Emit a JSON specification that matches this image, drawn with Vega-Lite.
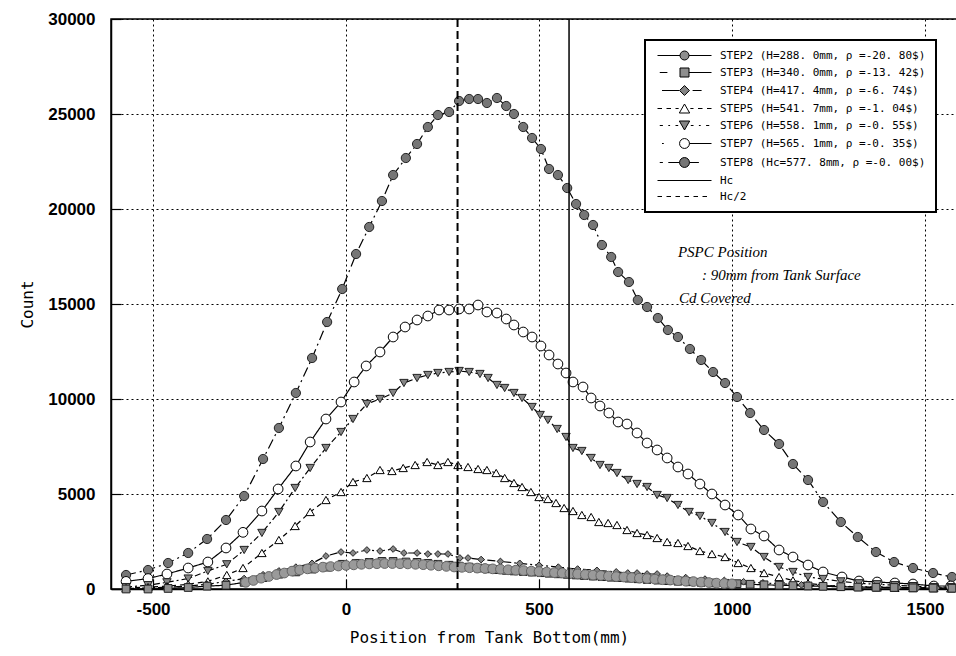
{
"$schema": "https://vega.github.io/schema/vega-lite/v6.json",
"width": 846, "height": 570,
"autosize": {"type": "none"},
"padding": {"left": 111, "top": 19, "right": 0, "bottom": 67},
"background": "white",
"config": {
 "view": {"stroke": "black", "strokeWidth": 1.5},
 "axis": {"domainColor": "black", "domainWidth": 1.5, "tickColor": "black", "tickSize": -10, "tickWidth": 1.2,
  "grid": true, "gridColor": "black", "gridDash": [2, 3], "gridWidth": 1, "gridOpacity": 1,
  "labelColor": "black", "labelFont": "Liberation Sans", "labelFontSize": 17, "labelFontWeight": "bold",
  "titleColor": "black", "titleFont": "DejaVu Sans Mono", "titleFontSize": 16, "titleFontWeight": "normal"},
 "axisX": {"labelPadding": 22, "titlePadding": 12},
 "axisY": {"labelPadding": 26, "titlePadding": 12}
},
"datasets": {
 "pts": [
{"s":"STEP8","x":-570,"y":737},{"s":"STEP8","x":-513,"y":1000},{"s":"STEP8","x":-461,"y":1368},{"s":"STEP8","x":-409,"y":1895},{"s":"STEP8","x":-360,"y":2632},{"s":"STEP8","x":-311,"y":3632},{"s":"STEP8","x":-264,"y":4895},{"s":"STEP8","x":-215,"y":6842},{"s":"STEP8","x":-174,"y":8474},{"s":"STEP8","x":-130,"y":10316},{"s":"STEP8","x":-88,"y":12158},{"s":"STEP8","x":-49,"y":14053},{"s":"STEP8","x":-10,"y":15789},{"s":"STEP8","x":26,"y":17632},{"s":"STEP8","x":60,"y":19053},{"s":"STEP8","x":93,"y":20421},{"s":"STEP8","x":122,"y":21789},{"s":"STEP8","x":155,"y":22684},{"s":"STEP8","x":184,"y":23421},{"s":"STEP8","x":212,"y":24316},{"s":"STEP8","x":238,"y":24947},{"s":"STEP8","x":267,"y":25105},{"s":"STEP8","x":293,"y":25684},{"s":"STEP8","x":319,"y":25789},{"s":"STEP8","x":342,"y":25789},{"s":"STEP8","x":365,"y":25579},{"s":"STEP8","x":391,"y":25842},{"s":"STEP8","x":415,"y":25421},{"s":"STEP8","x":435,"y":25000},{"s":"STEP8","x":459,"y":24316},{"s":"STEP8","x":482,"y":23737},{"s":"STEP8","x":505,"y":23158},{"s":"STEP8","x":526,"y":22105},{"s":"STEP8","x":549,"y":21789},{"s":"STEP8","x":573,"y":21105},{"s":"STEP8","x":596,"y":20263},{"s":"STEP8","x":617,"y":19684},{"s":"STEP8","x":640,"y":19158},{"s":"STEP8","x":663,"y":18105},{"s":"STEP8","x":687,"y":17474},{"s":"STEP8","x":705,"y":16684},{"s":"STEP8","x":733,"y":16158},{"s":"STEP8","x":756,"y":15211},{"s":"STEP8","x":780,"y":14842},{"s":"STEP8","x":808,"y":14263},{"s":"STEP8","x":834,"y":13632},{"s":"STEP8","x":860,"y":13263},{"s":"STEP8","x":891,"y":12632},{"s":"STEP8","x":920,"y":12053},{"s":"STEP8","x":951,"y":11421},{"s":"STEP8","x":982,"y":10842},{"s":"STEP8","x":1013,"y":10105},{"s":"STEP8","x":1047,"y":9263},{"s":"STEP8","x":1083,"y":8368},{"s":"STEP8","x":1122,"y":7632},{"s":"STEP8","x":1158,"y":6579},{"s":"STEP8","x":1197,"y":5737},{"s":"STEP8","x":1236,"y":4579},{"s":"STEP8","x":1282,"y":3526},{"s":"STEP8","x":1326,"y":2737},{"s":"STEP8","x":1373,"y":1947},{"s":"STEP8","x":1420,"y":1421},{"s":"STEP8","x":1469,"y":1105},{"s":"STEP8","x":1521,"y":842},{"s":"STEP8","x":1570,"y":632},
{"s":"STEP7","x":-570,"y":400},{"s":"STEP7","x":-513,"y":550},{"s":"STEP7","x":-464,"y":789},{"s":"STEP7","x":-409,"y":1105},{"s":"STEP7","x":-358,"y":1421},{"s":"STEP7","x":-311,"y":2158},{"s":"STEP7","x":-267,"y":2982},{"s":"STEP7","x":-218,"y":4105},{"s":"STEP7","x":-176,"y":5263},{"s":"STEP7","x":-130,"y":6474},{"s":"STEP7","x":-93,"y":7737},{"s":"STEP7","x":-52,"y":8947},{"s":"STEP7","x":-13,"y":9842},{"s":"STEP7","x":21,"y":10895},{"s":"STEP7","x":52,"y":11737},{"s":"STEP7","x":88,"y":12474},{"s":"STEP7","x":122,"y":13263},{"s":"STEP7","x":153,"y":13789},{"s":"STEP7","x":184,"y":14158},{"s":"STEP7","x":212,"y":14368},{"s":"STEP7","x":241,"y":14684},{"s":"STEP7","x":267,"y":14684},{"s":"STEP7","x":293,"y":14737},{"s":"STEP7","x":319,"y":14737},{"s":"STEP7","x":342,"y":14947},{"s":"STEP7","x":365,"y":14579},{"s":"STEP7","x":391,"y":14526},{"s":"STEP7","x":415,"y":14211},{"s":"STEP7","x":435,"y":13895},{"s":"STEP7","x":459,"y":13526},{"s":"STEP7","x":482,"y":13263},{"s":"STEP7","x":505,"y":12789},{"s":"STEP7","x":526,"y":12316},{"s":"STEP7","x":549,"y":11842},{"s":"STEP7","x":570,"y":11368},{"s":"STEP7","x":588,"y":10895},{"s":"STEP7","x":614,"y":10632},{"s":"STEP7","x":635,"y":10053},{"s":"STEP7","x":658,"y":9632},{"s":"STEP7","x":681,"y":9263},{"s":"STEP7","x":705,"y":8789},{"s":"STEP7","x":728,"y":8684},{"s":"STEP7","x":754,"y":8211},{"s":"STEP7","x":780,"y":7684},{"s":"STEP7","x":806,"y":7316},{"s":"STEP7","x":832,"y":6895},{"s":"STEP7","x":860,"y":6421},{"s":"STEP7","x":886,"y":6053},{"s":"STEP7","x":917,"y":5526},{"s":"STEP7","x":948,"y":5000},{"s":"STEP7","x":982,"y":4421},{"s":"STEP7","x":1016,"y":3895},{"s":"STEP7","x":1049,"y":3158},{"s":"STEP7","x":1083,"y":2789},{"s":"STEP7","x":1122,"y":2053},{"s":"STEP7","x":1158,"y":1684},{"s":"STEP7","x":1197,"y":1263},{"s":"STEP7","x":1236,"y":895},{"s":"STEP7","x":1285,"y":632},{"s":"STEP7","x":1329,"y":421},{"s":"STEP7","x":1376,"y":368},{"s":"STEP7","x":1422,"y":316},{"s":"STEP7","x":1469,"y":263},{"s":"STEP7","x":1523,"y":158},{"s":"STEP7","x":1567,"y":158},
{"s":"STEP6","x":-570,"y":100},{"s":"STEP6","x":-513,"y":200},{"s":"STEP6","x":-464,"y":350},{"s":"STEP6","x":-409,"y":550},{"s":"STEP6","x":-358,"y":950},{"s":"STEP6","x":-309,"y":1300},{"s":"STEP6","x":-264,"y":2053},{"s":"STEP6","x":-218,"y":2950},{"s":"STEP6","x":-174,"y":4053},{"s":"STEP6","x":-132,"y":5316},{"s":"STEP6","x":-93,"y":6368},{"s":"STEP6","x":-52,"y":7421},{"s":"STEP6","x":-13,"y":8263},{"s":"STEP6","x":18,"y":8947},{"s":"STEP6","x":54,"y":9737},{"s":"STEP6","x":88,"y":10000},{"s":"STEP6","x":122,"y":10316},{"s":"STEP6","x":150,"y":10842},{"s":"STEP6","x":184,"y":11105},{"s":"STEP6","x":212,"y":11263},{"s":"STEP6","x":238,"y":11368},{"s":"STEP6","x":267,"y":11421},{"s":"STEP6","x":293,"y":11474},{"s":"STEP6","x":319,"y":11421},{"s":"STEP6","x":347,"y":11316},{"s":"STEP6","x":368,"y":11105},{"s":"STEP6","x":391,"y":10737},{"s":"STEP6","x":411,"y":10579},{"s":"STEP6","x":435,"y":10316},{"s":"STEP6","x":456,"y":10053},{"s":"STEP6","x":482,"y":9579},{"s":"STEP6","x":503,"y":9158},{"s":"STEP6","x":523,"y":8895},{"s":"STEP6","x":547,"y":8421},{"s":"STEP6","x":570,"y":8000},{"s":"STEP6","x":588,"y":7421},{"s":"STEP6","x":611,"y":7263},{"s":"STEP6","x":635,"y":6895},{"s":"STEP6","x":658,"y":6526},{"s":"STEP6","x":681,"y":6368},{"s":"STEP6","x":702,"y":6105},{"s":"STEP6","x":731,"y":5737},{"s":"STEP6","x":754,"y":5526},{"s":"STEP6","x":780,"y":5368},{"s":"STEP6","x":806,"y":4947},{"s":"STEP6","x":832,"y":4789},{"s":"STEP6","x":860,"y":4421},{"s":"STEP6","x":889,"y":4053},{"s":"STEP6","x":917,"y":3842},{"s":"STEP6","x":948,"y":3474},{"s":"STEP6","x":982,"y":3000},{"s":"STEP6","x":1013,"y":2474},{"s":"STEP6","x":1049,"y":2211},{"s":"STEP6","x":1083,"y":1684},{"s":"STEP6","x":1122,"y":1158},{"s":"STEP6","x":1158,"y":895},{"s":"STEP6","x":1197,"y":632},{"s":"STEP6","x":1236,"y":526},{"s":"STEP6","x":1282,"y":400},{"s":"STEP6","x":1329,"y":300},{"s":"STEP6","x":1376,"y":250},{"s":"STEP6","x":1422,"y":200},{"s":"STEP6","x":1469,"y":150},{"s":"STEP6","x":1523,"y":100},{"s":"STEP6","x":1567,"y":100},
{"s":"STEP5","x":-570,"y":50},{"s":"STEP5","x":-513,"y":100},{"s":"STEP5","x":-464,"y":150},{"s":"STEP5","x":-409,"y":250},{"s":"STEP5","x":-358,"y":400},{"s":"STEP5","x":-309,"y":737},{"s":"STEP5","x":-267,"y":1105},{"s":"STEP5","x":-218,"y":1895},{"s":"STEP5","x":-174,"y":2579},{"s":"STEP5","x":-132,"y":3316},{"s":"STEP5","x":-93,"y":4053},{"s":"STEP5","x":-52,"y":4684},{"s":"STEP5","x":-13,"y":5105},{"s":"STEP5","x":18,"y":5632},{"s":"STEP5","x":54,"y":5842},{"s":"STEP5","x":88,"y":6263},{"s":"STEP5","x":119,"y":6211},{"s":"STEP5","x":148,"y":6368},{"s":"STEP5","x":179,"y":6526},{"s":"STEP5","x":210,"y":6684},{"s":"STEP5","x":238,"y":6526},{"s":"STEP5","x":264,"y":6684},{"s":"STEP5","x":290,"y":6526},{"s":"STEP5","x":316,"y":6421},{"s":"STEP5","x":342,"y":6316},{"s":"STEP5","x":365,"y":6263},{"s":"STEP5","x":389,"y":6105},{"s":"STEP5","x":411,"y":5842},{"s":"STEP5","x":435,"y":5579},{"s":"STEP5","x":456,"y":5368},{"s":"STEP5","x":479,"y":5105},{"s":"STEP5","x":500,"y":4842},{"s":"STEP5","x":523,"y":4737},{"s":"STEP5","x":544,"y":4526},{"s":"STEP5","x":565,"y":4263},{"s":"STEP5","x":588,"y":4105},{"s":"STEP5","x":611,"y":3895},{"s":"STEP5","x":635,"y":3789},{"s":"STEP5","x":655,"y":3526},{"s":"STEP5","x":679,"y":3474},{"s":"STEP5","x":702,"y":3368},{"s":"STEP5","x":728,"y":3105},{"s":"STEP5","x":754,"y":2947},{"s":"STEP5","x":780,"y":2842},{"s":"STEP5","x":806,"y":2684},{"s":"STEP5","x":832,"y":2474},{"s":"STEP5","x":860,"y":2421},{"s":"STEP5","x":886,"y":2263},{"s":"STEP5","x":917,"y":2000},{"s":"STEP5","x":948,"y":1842},{"s":"STEP5","x":982,"y":1684},{"s":"STEP5","x":1016,"y":1368},{"s":"STEP5","x":1049,"y":1105},{"s":"STEP5","x":1083,"y":842},{"s":"STEP5","x":1122,"y":632},{"s":"STEP5","x":1158,"y":450},{"s":"STEP5","x":1197,"y":300},{"s":"STEP5","x":1236,"y":200},{"s":"STEP5","x":1282,"y":150},{"s":"STEP5","x":1329,"y":100},{"s":"STEP5","x":1376,"y":80},{"s":"STEP5","x":1422,"y":60},{"s":"STEP5","x":1469,"y":50},{"s":"STEP5","x":1523,"y":40},{"s":"STEP5","x":1567,"y":30},
{"s":"STEP4","x":-570,"y":30},{"s":"STEP4","x":-513,"y":50},{"s":"STEP4","x":-461,"y":100},{"s":"STEP4","x":-409,"y":150},{"s":"STEP4","x":-360,"y":250},{"s":"STEP4","x":-311,"y":400},{"s":"STEP4","x":-264,"y":550},{"s":"STEP4","x":-215,"y":750},{"s":"STEP4","x":-174,"y":950},{"s":"STEP4","x":-130,"y":1150},{"s":"STEP4","x":-88,"y":1350},{"s":"STEP4","x":-52,"y":1737},{"s":"STEP4","x":-13,"y":1947},{"s":"STEP4","x":18,"y":1895},{"s":"STEP4","x":54,"y":2053},{"s":"STEP4","x":88,"y":2000},{"s":"STEP4","x":122,"y":2105},{"s":"STEP4","x":150,"y":1895},{"s":"STEP4","x":184,"y":1895},{"s":"STEP4","x":212,"y":1842},{"s":"STEP4","x":238,"y":1842},{"s":"STEP4","x":264,"y":1842},{"s":"STEP4","x":295,"y":1632},{"s":"STEP4","x":316,"y":1632},{"s":"STEP4","x":350,"y":1550},{"s":"STEP4","x":400,"y":1450},{"s":"STEP4","x":450,"y":1350},{"s":"STEP4","x":500,"y":1250},{"s":"STEP4","x":550,"y":1150},{"s":"STEP4","x":600,"y":1050},{"s":"STEP4","x":650,"y":980},{"s":"STEP4","x":700,"y":900},{"s":"STEP4","x":730,"y":842},{"s":"STEP4","x":754,"y":842},{"s":"STEP4","x":780,"y":790},{"s":"STEP4","x":806,"y":790},{"s":"STEP4","x":832,"y":680},{"s":"STEP4","x":880,"y":600},{"s":"STEP4","x":930,"y":520},{"s":"STEP4","x":980,"y":450},{"s":"STEP4","x":1030,"y":380},{"s":"STEP4","x":1080,"y":320},{"s":"STEP4","x":1130,"y":270},{"s":"STEP4","x":1180,"y":220},{"s":"STEP4","x":1230,"y":180},{"s":"STEP4","x":1280,"y":150},{"s":"STEP4","x":1330,"y":120},{"s":"STEP4","x":1380,"y":100},{"s":"STEP4","x":1430,"y":80},{"s":"STEP4","x":1480,"y":60},{"s":"STEP4","x":1530,"y":50},{"s":"STEP4","x":1570,"y":40},
{"s":"STEP3","x":-570,"y":0},{"s":"STEP3","x":-513,"y":0},{"s":"STEP3","x":-461,"y":30},{"s":"STEP3","x":-409,"y":80},{"s":"STEP3","x":-360,"y":150},{"s":"STEP3","x":-311,"y":200},{"s":"STEP3","x":-264,"y":350},{"s":"STEP3","x":-215,"y":600},{"s":"STEP3","x":-174,"y":780},{"s":"STEP3","x":-130,"y":900},{"s":"STEP3","x":-88,"y":1050},{"s":"STEP3","x":-49,"y":1150},{"s":"STEP3","x":-10,"y":1300},{"s":"STEP3","x":26,"y":1350},{"s":"STEP3","x":60,"y":1400},{"s":"STEP3","x":93,"y":1450},{"s":"STEP3","x":122,"y":1450},{"s":"STEP3","x":155,"y":1420},{"s":"STEP3","x":184,"y":1400},{"s":"STEP3","x":212,"y":1350},{"s":"STEP3","x":238,"y":1300},{"s":"STEP3","x":267,"y":1250},{"s":"STEP3","x":293,"y":1200},{"s":"STEP3","x":319,"y":1150},{"s":"STEP3","x":342,"y":1100},{"s":"STEP3","x":365,"y":1060},{"s":"STEP3","x":391,"y":1020},{"s":"STEP3","x":415,"y":980},{"s":"STEP3","x":435,"y":950},{"s":"STEP3","x":459,"y":920},{"s":"STEP3","x":482,"y":890},{"s":"STEP3","x":505,"y":860},{"s":"STEP3","x":526,"y":830},{"s":"STEP3","x":549,"y":800},{"s":"STEP3","x":573,"y":770},{"s":"STEP3","x":596,"y":740},{"s":"STEP3","x":617,"y":710},{"s":"STEP3","x":640,"y":680},{"s":"STEP3","x":663,"y":650},{"s":"STEP3","x":687,"y":620},{"s":"STEP3","x":705,"y":600},{"s":"STEP3","x":733,"y":570},{"s":"STEP3","x":756,"y":540},{"s":"STEP3","x":780,"y":500},{"s":"STEP3","x":808,"y":470},{"s":"STEP3","x":834,"y":440},{"s":"STEP3","x":860,"y":410},{"s":"STEP3","x":891,"y":380},{"s":"STEP3","x":920,"y":350},{"s":"STEP3","x":951,"y":320},{"s":"STEP3","x":982,"y":300},{"s":"STEP3","x":1013,"y":280},{"s":"STEP3","x":1047,"y":250},{"s":"STEP3","x":1083,"y":220},{"s":"STEP3","x":1122,"y":200},{"s":"STEP3","x":1158,"y":180},{"s":"STEP3","x":1197,"y":160},{"s":"STEP3","x":1236,"y":140},{"s":"STEP3","x":1282,"y":120},{"s":"STEP3","x":1326,"y":100},{"s":"STEP3","x":1373,"y":90},{"s":"STEP3","x":1420,"y":80},{"s":"STEP3","x":1469,"y":60},{"s":"STEP3","x":1521,"y":50},{"s":"STEP3","x":1570,"y":40},
{"s":"STEP2","x":-260,"y":350},{"s":"STEP2","x":-240,"y":450},{"s":"STEP2","x":-220,"y":570},{"s":"STEP2","x":-200,"y":660},{"s":"STEP2","x":-180,"y":760},{"s":"STEP2","x":-160,"y":840},{"s":"STEP2","x":-140,"y":940},{"s":"STEP2","x":-120,"y":1000},{"s":"STEP2","x":-100,"y":1060},{"s":"STEP2","x":-80,"y":1100},{"s":"STEP2","x":-60,"y":1150},{"s":"STEP2","x":-40,"y":1180},{"s":"STEP2","x":-20,"y":1210},{"s":"STEP2","x":0,"y":1240},{"s":"STEP2","x":20,"y":1270},{"s":"STEP2","x":40,"y":1300},{"s":"STEP2","x":60,"y":1320},{"s":"STEP2","x":80,"y":1330},{"s":"STEP2","x":100,"y":1340},{"s":"STEP2","x":120,"y":1340},{"s":"STEP2","x":140,"y":1330},{"s":"STEP2","x":160,"y":1320},{"s":"STEP2","x":180,"y":1300},{"s":"STEP2","x":200,"y":1280},{"s":"STEP2","x":220,"y":1250},{"s":"STEP2","x":240,"y":1220},{"s":"STEP2","x":260,"y":1190},{"s":"STEP2","x":280,"y":1160},{"s":"STEP2","x":300,"y":1140},{"s":"STEP2","x":320,"y":1120},{"s":"STEP2","x":340,"y":1100},{"s":"STEP2","x":360,"y":1080},{"s":"STEP2","x":380,"y":1060},{"s":"STEP2","x":400,"y":1040},{"s":"STEP2","x":420,"y":1010},{"s":"STEP2","x":440,"y":990},{"s":"STEP2","x":460,"y":970},{"s":"STEP2","x":480,"y":940},{"s":"STEP2","x":500,"y":920},{"s":"STEP2","x":520,"y":890},{"s":"STEP2","x":540,"y":860},{"s":"STEP2","x":560,"y":840},{"s":"STEP2","x":580,"y":810},{"s":"STEP2","x":600,"y":790},{"s":"STEP2","x":620,"y":760},{"s":"STEP2","x":640,"y":730},{"s":"STEP2","x":660,"y":710},{"s":"STEP2","x":680,"y":680},{"s":"STEP2","x":700,"y":650},{"s":"STEP2","x":720,"y":630},{"s":"STEP2","x":740,"y":600},{"s":"STEP2","x":760,"y":570},{"s":"STEP2","x":780,"y":550},{"s":"STEP2","x":800,"y":520},{"s":"STEP2","x":820,"y":490},{"s":"STEP2","x":840,"y":470},{"s":"STEP2","x":860,"y":440},{"s":"STEP2","x":880,"y":410},{"s":"STEP2","x":900,"y":390},{"s":"STEP2","x":920,"y":360},{"s":"STEP2","x":940,"y":340},{"s":"STEP2","x":960,"y":310},{"s":"STEP2","x":980,"y":290},{"s":"STEP2","x":1000,"y":270}
 ],
 "legend": [
  {"lg": "STEP2 (H=288. 0mm, ρ =-20. 80$)"},
  {"lg": "STEP3 (H=340. 0mm, ρ =-13. 42$)"},
  {"lg": "STEP4 (H=417. 4mm, ρ =-6. 74$)"},
  {"lg": "STEP5 (H=541. 7mm, ρ =-1. 04$)"},
  {"lg": "STEP6 (H=558. 1mm, ρ =-0. 55$)"},
  {"lg": "STEP7 (H=565. 1mm, ρ =-0. 35$)"},
  {"lg": "STEP8 (Hc=577. 8mm, ρ =-0. 00$)"},
  {"lg": "Hc"},
  {"lg": "Hc/2"}
 ],
 "one": [{"k": 1}]
},
"layer": [
 {
  "data": {"name": "pts"},
  "mark": {"type": "line", "color": "black", "strokeWidth": 1.2},
  "encoding": {
   "x": {"field": "x", "type": "quantitative", "title": "Position from Tank Bottom(mm)",
     "scale": {"domain": [-609, 1583], "nice": false, "zero": false},
     "axis": {"values": [-500, 0, 500, 1000, 1500], "labelExpr": "datum.value + ''", "titleX": 378}},
   "y": {"field": "y", "type": "quantitative", "title": "Count",
     "scale": {"domain": [0, 30000], "nice": false},
     "axis": {"values": [0, 5000, 10000, 15000, 20000, 25000, 30000], "labelExpr": "datum.value + ''"}},
   "strokeDash": {"field": "s", "type": "nominal", "legend": null,
     "scale": {"domain": ["STEP2","STEP3","STEP4","STEP5","STEP6","STEP7","STEP8"],
       "range": [[1,0],[1,0],[8,3,2,3],[5,4],[6,3,2,3],[1,0],[10,4,2,4]]}}
  }
 },
 {
  "data": {"name": "pts"}, "transform": [{"filter": {"field": "s", "equal": "STEP8"}}],
  "mark": {"type": "point", "shape": "circle", "filled": true, "fill": "#767676", "stroke": "#222222", "strokeWidth": 1, "size": 85, "opacity": 1},
  "encoding": {"x": {"field": "x", "type": "quantitative", "title": "Position from Tank Bottom(mm)"}, "y": {"field": "y", "type": "quantitative", "title": "Count"}}
 },
 {
  "data": {"name": "pts"}, "transform": [{"filter": {"field": "s", "equal": "STEP7"}}],
  "mark": {"type": "point", "shape": "circle", "filled": true, "fill": "#ffffff", "stroke": "#000000", "strokeWidth": 1, "size": 95, "opacity": 1},
  "encoding": {"x": {"field": "x", "type": "quantitative", "title": "Position from Tank Bottom(mm)"}, "y": {"field": "y", "type": "quantitative", "title": "Count"}}
 },
 {
  "data": {"name": "pts"}, "transform": [{"filter": {"field": "s", "equal": "STEP6"}}],
  "mark": {"type": "point", "shape": "triangle-down", "filled": true, "fill": "#858585", "stroke": "#222222", "strokeWidth": 1, "size": 70, "opacity": 1},
  "encoding": {"x": {"field": "x", "type": "quantitative", "title": "Position from Tank Bottom(mm)"}, "y": {"field": "y", "type": "quantitative", "title": "Count"}}
 },
 {
  "data": {"name": "pts"}, "transform": [{"filter": {"field": "s", "equal": "STEP5"}}],
  "mark": {"type": "point", "shape": "triangle-up", "filled": true, "fill": "#ffffff", "stroke": "#000000", "strokeWidth": 1, "size": 70, "opacity": 1},
  "encoding": {"x": {"field": "x", "type": "quantitative", "title": "Position from Tank Bottom(mm)"}, "y": {"field": "y", "type": "quantitative", "title": "Count"}}
 },
 {
  "data": {"name": "pts"}, "transform": [{"filter": {"field": "s", "equal": "STEP4"}}],
  "mark": {"type": "point", "shape": "diamond", "filled": true, "fill": "#858585", "stroke": "#222222", "strokeWidth": 1, "size": 45, "opacity": 1},
  "encoding": {"x": {"field": "x", "type": "quantitative", "title": "Position from Tank Bottom(mm)"}, "y": {"field": "y", "type": "quantitative", "title": "Count"}}
 },
 {
  "data": {"name": "pts"}, "transform": [{"filter": {"field": "s", "equal": "STEP3"}}],
  "mark": {"type": "point", "shape": "square", "filled": true, "fill": "#8e8e8e", "stroke": "#222222", "strokeWidth": 1, "size": 60, "opacity": 1},
  "encoding": {"x": {"field": "x", "type": "quantitative", "title": "Position from Tank Bottom(mm)"}, "y": {"field": "y", "type": "quantitative", "title": "Count"}}
 },
 {
  "data": {"name": "pts"}, "transform": [{"filter": {"field": "s", "equal": "STEP2"}}],
  "mark": {"type": "point", "shape": "circle", "filled": true, "fill": "#9a9a9a", "stroke": "#666666", "strokeWidth": 1, "size": 95, "opacity": 1},
  "encoding": {"x": {"field": "x", "type": "quantitative", "title": "Position from Tank Bottom(mm)"}, "y": {"field": "y", "type": "quantitative", "title": "Count"}}
 },
 {
  "data": {"name": "one"},
  "mark": {"type": "rule", "color": "black", "strokeWidth": 1.5},
  "encoding": {"x": {"datum": 577.8, "type": "quantitative", "title": "Position from Tank Bottom(mm)"}}
 },
 {
  "data": {"name": "one"},
  "mark": {"type": "rule", "color": "black", "strokeWidth": 2, "strokeDash": [8, 4]},
  "encoding": {"x": {"datum": 288.9, "type": "quantitative", "title": "Position from Tank Bottom(mm)"}}
 },
 {
  "data": {"name": "one"},
  "mark": {"type": "text", "align": "left", "baseline": "middle", "font": "Liberation Serif", "fontStyle": "italic", "fontSize": 15, "color": "black"},
  "encoding": {"x": {"datum": 860, "type": "quantitative", "title": "Position from Tank Bottom(mm)"}, "y": {"datum": 17740, "type": "quantitative", "title": "Count"}, "text": {"value": "PSPC Position"}}
 },
 {
  "data": {"name": "one"},
  "mark": {"type": "text", "align": "left", "baseline": "middle", "font": "Liberation Serif", "fontStyle": "italic", "fontSize": 15, "color": "black"},
  "encoding": {"x": {"datum": 922, "type": "quantitative", "title": "Position from Tank Bottom(mm)"}, "y": {"datum": 16530, "type": "quantitative", "title": "Count"}, "text": {"value": ": 90mm from Tank Surface"}}
 },
 {
  "data": {"name": "one"},
  "mark": {"type": "text", "align": "left", "baseline": "middle", "font": "Liberation Serif", "fontStyle": "italic", "fontSize": 15, "color": "black"},
  "encoding": {"x": {"datum": 863, "type": "quantitative", "title": "Position from Tank Bottom(mm)"}, "y": {"datum": 15320, "type": "quantitative", "title": "Count"}, "text": {"value": "Cd Covered"}}
 },
 {
  "data": {"name": "legend"},
  "mark": {"type": "point", "filled": true, "opacity": 0, "strokeWidth": 1},
  "encoding": {
   "shape": {"field": "lg", "type": "nominal",
     "scale": {"domain": ["STEP2 (H=288. 0mm, ρ =-20. 80$)","STEP3 (H=340. 0mm, ρ =-13. 42$)","STEP4 (H=417. 4mm, ρ =-6. 74$)","STEP5 (H=541. 7mm, ρ =-1. 04$)","STEP6 (H=558. 1mm, ρ =-0. 55$)","STEP7 (H=565. 1mm, ρ =-0. 35$)","STEP8 (Hc=577. 8mm, ρ =-0. 00$)","Hc","Hc/2"],
       "range": [
        "M-6,0H-1M1,0H6M-1,0A1,1,0,1,0,1,0A1,1,0,1,0,-1,0Z",
        "M-5.5,0H-3.8M1,0H6M-1,-1H1V1H-1Z",
        "M-5,0H-1.2M1.8,0H3.8M0,-1.1L1.1,0L0,1.1L-1.1,0Z",
        "M-6,0H-5M-4,0H-3M-2,0H-1.3M1.3,0H2M3,0H4M5,0H6M0,-1L1.15,1H-1.15Z",
        "M-5.5,0H-4.8M-3.6,0H-3.2M-2,0H-1.4M1.4,0H2M3.2,0H3.6M4.8,0H5.5M-1.15,-1H1.15L0,1Z",
        "M-5,0H-4.6M1.1,0H6M-1.1,0A1.1,1.1,0,1,0,1.1,0A1.1,1.1,0,1,0,-1.1,0Z",
        "M-5.5,0H-4.8M-3.6,0H-1.1M1.1,0H3.2M-1.1,0A1.1,1.1,0,1,0,1.1,0A1.1,1.1,0,1,0,-1.1,0Z",
        "M-6,0H6",
        "M-6,0H-5M-4,0H-3M-2,0H-1M0,0H1M2,0H3M4,0H5"
       ]},
     "legend": {"title": null, "orient": "none", "legendX": 534, "legendY": 21, "fillColor": "white", "strokeColor": "black",
       "padding": 10, "symbolSize": 81, "symbolOffset": 24, "labelOffset": 30, "labelFont": "DejaVu Sans Mono", "labelFontSize": 11,
       "labelColor": "black", "labelLimit": 400, "rowPadding": 4, "symbolStrokeWidth": 1, "symbolOpacity": 1,
       "encode": {"legend": {"update": {"strokeWidth": {"value": 2}}}}}},
   "fill": {"field": "lg", "type": "nominal",
     "scale": {"domain": ["STEP2 (H=288. 0mm, ρ =-20. 80$)","STEP3 (H=340. 0mm, ρ =-13. 42$)","STEP4 (H=417. 4mm, ρ =-6. 74$)","STEP5 (H=541. 7mm, ρ =-1. 04$)","STEP6 (H=558. 1mm, ρ =-0. 55$)","STEP7 (H=565. 1mm, ρ =-0. 35$)","STEP8 (Hc=577. 8mm, ρ =-0. 00$)","Hc","Hc/2"],
       "range": ["#8e8e8e","#8e8e8e","#858585","#ffffff","#858585","#ffffff","#767676","#ffffff","#ffffff"]},
     "legend": {"title": null, "orient": "none", "legendX": 534, "legendY": 21, "fillColor": "white", "strokeColor": "black",
       "padding": 10, "symbolSize": 81, "symbolOffset": 24, "labelOffset": 30, "labelFont": "DejaVu Sans Mono", "labelFontSize": 11,
       "labelColor": "black", "labelLimit": 400, "rowPadding": 4, "symbolStrokeWidth": 1, "symbolOpacity": 1,
       "encode": {"legend": {"update": {"strokeWidth": {"value": 2}}}}}},
   "stroke": {"field": "lg", "type": "nominal",
     "scale": {"domain": ["STEP2 (H=288. 0mm, ρ =-20. 80$)","STEP3 (H=340. 0mm, ρ =-13. 42$)","STEP4 (H=417. 4mm, ρ =-6. 74$)","STEP5 (H=541. 7mm, ρ =-1. 04$)","STEP6 (H=558. 1mm, ρ =-0. 55$)","STEP7 (H=565. 1mm, ρ =-0. 35$)","STEP8 (Hc=577. 8mm, ρ =-0. 00$)","Hc","Hc/2"],
       "range": ["#000000","#000000","#000000","#000000","#000000","#000000","#000000","#000000","#000000"]},
     "legend": {"title": null, "orient": "none", "legendX": 534, "legendY": 21, "fillColor": "white", "strokeColor": "black",
       "padding": 10, "symbolSize": 81, "symbolOffset": 24, "labelOffset": 30, "labelFont": "DejaVu Sans Mono", "labelFontSize": 11,
       "labelColor": "black", "labelLimit": 400, "rowPadding": 4, "symbolStrokeWidth": 1, "symbolOpacity": 1,
       "encode": {"legend": {"update": {"strokeWidth": {"value": 2}}}}}}
  }
 }
]
}
